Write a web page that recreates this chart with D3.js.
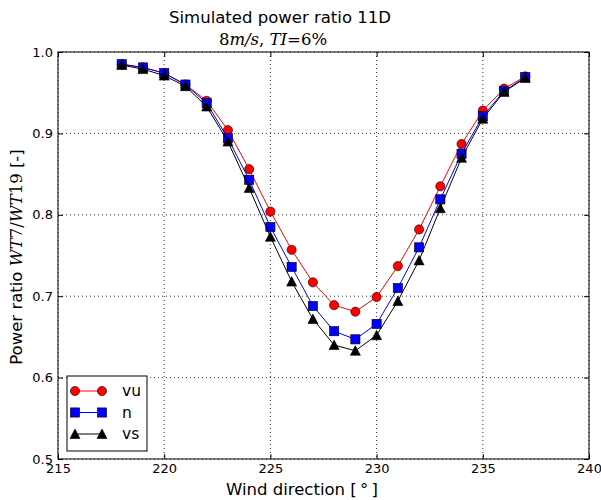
<!DOCTYPE html>
<html>
<head>
<meta charset="utf-8">
<script src="https://cdn.jsdelivr.net/npm/d3@7"></script>
<style>
  body { margin: 0; background: #fff; }
  text { font-family: "DejaVu Sans", sans-serif; fill: #000; }
  .math { font-family: "DejaVu Serif", serif; }
</style>
</head>
<body>
<div id="chart"></div>
<script>
// wind directions (deg)
var directions = [218, 219, 220, 221, 222, 223, 224, 225, 226, 227, 228, 229, 230, 231, 232, 233, 234, 235, 236, 237];

// power ratio WT7/WT19 per series
var vuValues = [0.985, 0.981, 0.974, 0.960, 0.940, 0.904, 0.856, 0.804, 0.757, 0.717, 0.689, 0.681, 0.699, 0.737, 0.782, 0.835, 0.887, 0.928, 0.955, 0.970];
var nValues  = [0.985, 0.981, 0.974, 0.960, 0.937, 0.894, 0.843, 0.785, 0.736, 0.688, 0.657, 0.647, 0.666, 0.710, 0.760, 0.819, 0.875, 0.921, 0.952, 0.969];
var vsValues = [0.984, 0.979, 0.971, 0.958, 0.933, 0.890, 0.833, 0.773, 0.718, 0.672, 0.640, 0.633, 0.652, 0.694, 0.744, 0.808, 0.870, 0.918, 0.951, 0.968];

var seriesNames = ["vu", "n", "vs"];
var xTicks = [215, 220, 225, 230, 235, 240];
var yTicks = [0.5, 0.6, 0.7, 0.8, 0.9, 1.0];

var series = [
   { name: seriesNames[0], values: vuValues, color: "#ff0000", marker: "circle" },
   { name: seriesNames[1], values: nValues, color: "#0000ff", marker: "square" },
   { name: seriesNames[2], values: vsValues, color: "#000000", marker: "triangle" }
];

var margin = { top: 52, right: 12, bottom: 41, left: 58 },
   width = 601 - margin.left - margin.right,
   height = 500 - margin.top - margin.bottom;

var svg = d3.select("#chart")
   .append("svg")
   .attr("width", 601)
   .attr("height", 500);

var g = svg.append("g")
   .attr("transform", "translate(" + margin.left + "," + margin.top + ")");

var xScale = d3.scaleLinear().domain([215, 240]).range([0, width]);
var yScale = d3.scaleLinear().domain([0.5, 1.0]).range([height, 0]);

// grid
g.append("g")
   .selectAll("line.gx")
   .data(xTicks)
   .enter().append("line")
   .attr("x1", d => xScale(d)).attr("x2", d => xScale(d))
   .attr("y1", 0).attr("y2", height)
   .attr("stroke", "#000").attr("stroke-width", 0.8)
   .attr("stroke-dasharray", "1,3");

g.append("g")
   .selectAll("line.gy")
   .data(yTicks)
   .enter().append("line")
   .attr("y1", d => yScale(d)).attr("y2", d => yScale(d))
   .attr("x1", 0).attr("x2", width)
   .attr("stroke", "#000").attr("stroke-width", 0.8)
   .attr("stroke-dasharray", "1,3");

// axes with inward ticks on all sides
var bottomAxis = g.append("g")
   .attr("transform", "translate(0," + height + ")")
   .call(d3.axisBottom(xScale).tickValues(xTicks).tickFormat(d3.format("d")).tickSizeInner(-5).tickSizeOuter(0).tickPadding(6));
var topAxis = g.append("g")
   .call(d3.axisTop(xScale).tickValues(xTicks).tickFormat("").tickSizeInner(-5).tickSizeOuter(0));
var leftAxis = g.append("g")
   .call(d3.axisLeft(yScale).tickValues(yTicks).tickFormat(d3.format(".1f")).tickSizeInner(-5).tickSizeOuter(0).tickPadding(5));
var rightAxis = g.append("g")
   .attr("transform", "translate(" + width + ",0)")
   .call(d3.axisRight(yScale).tickValues(yTicks).tickFormat("").tickSizeInner(-5).tickSizeOuter(0));

g.selectAll(".domain").remove();
g.selectAll(".tick line").attr("stroke", "#000");
g.selectAll(".tick text")
   .style("font-family", "DejaVu Sans, sans-serif")
   .style("font-size", "13px")
   .attr("fill", "#000");
bottomAxis.selectAll(".tick text").attr("dy", "0.6em");

// frame
g.append("rect")
   .attr("width", width).attr("height", height)
   .attr("fill", "none").attr("stroke", "#000").attr("stroke-width", 1);

// lines and markers
var line = d3.line()
   .x((d, i) => xScale(directions[i]))
   .y(d => yScale(d));

function drawMarker(sel, type, color, cx, cy) {
   if (type === "circle") {
      sel.append("circle").attr("cx", cx).attr("cy", cy).attr("r", 4.6)
         .attr("fill", color).attr("stroke", "#000").attr("stroke-width", 0.6);
   } else if (type === "square") {
      sel.append("rect").attr("x", cx - 4.6).attr("y", cy - 4.6)
         .attr("width", 9.2).attr("height", 9.2)
         .attr("fill", color).attr("stroke", "#000").attr("stroke-width", 0.6);
   } else {
      sel.append("path")
         .attr("d", "M" + cx + "," + (cy - 5) + "L" + (cx + 5) + "," + (cy + 4.5) + "L" + (cx - 5) + "," + (cy + 4.5) + "Z")
         .attr("fill", color).attr("stroke", "#000").attr("stroke-width", 0.6);
   }
}

series.forEach(function (s) {
   g.append("path")
      .datum(s.values)
      .attr("fill", "none")
      .attr("stroke", s.color)
      .attr("stroke-width", 1)
      .attr("d", line);

   var mg = g.append("g");
   s.values.forEach(function (v, i) {
      drawMarker(mg, s.marker, s.color, xScale(directions[i]), yScale(v));
   });
});

// legend
var legend = g.append("g").attr("transform", "translate(9,324)");
legend.append("rect")
   .attr("width", 80).attr("height", 75)
   .attr("fill", "#fff").attr("stroke", "#000").attr("stroke-width", 1);
series.forEach(function (s, i) {
   var ly = 15 + i * 21.5;
   legend.append("line")
      .attr("x1", 8).attr("x2", 35).attr("y1", ly).attr("y2", ly)
      .attr("stroke", s.color).attr("stroke-width", 1);
   drawMarker(legend, s.marker, s.color, 8, ly);
   drawMarker(legend, s.marker, s.color, 35, ly);
   legend.append("text")
      .attr("x", 55).attr("y", ly).attr("dy", "0.35em")
      .style("font-size", "15.5px")
      .text(s.name);
});

// titles
svg.append("text")
   .attr("x", 280).attr("y", 23)
   .attr("text-anchor", "middle")
   .style("font-size", "16.5px")
   .text("Simulated power ratio 11D");

var sub = svg.append("text")
   .attr("class", "math")
   .attr("x", 273).attr("y", 45)
   .attr("text-anchor", "middle")
   .style("font-size", "16.5px");
sub.append("tspan").text("8");
sub.append("tspan").style("font-style", "italic").text("m/s");
sub.append("tspan").text(", ");
sub.append("tspan").style("font-style", "italic").text("TI");
sub.append("tspan").text("=6%");

svg.append("text")
   .attr("x", 302).attr("y", 495)
   .attr("text-anchor", "middle")
   .style("font-size", "16.5px")
   .text("Wind direction [\u2009\u00b0\u2009]");

var yl = svg.append("text")
   .attr("transform", "translate(22,257) rotate(-90)")
   .attr("text-anchor", "middle")
   .style("font-size", "16.5px");
yl.append("tspan").text("Power ratio ");
yl.append("tspan").attr("class", "math").style("font-style", "italic").text("WT");
yl.append("tspan").attr("class", "math").text("7/");
yl.append("tspan").attr("class", "math").style("font-style", "italic").text("WT");
yl.append("tspan").attr("class", "math").text("19");
yl.append("tspan").text(" [-]");
</script>
</body>
</html>
